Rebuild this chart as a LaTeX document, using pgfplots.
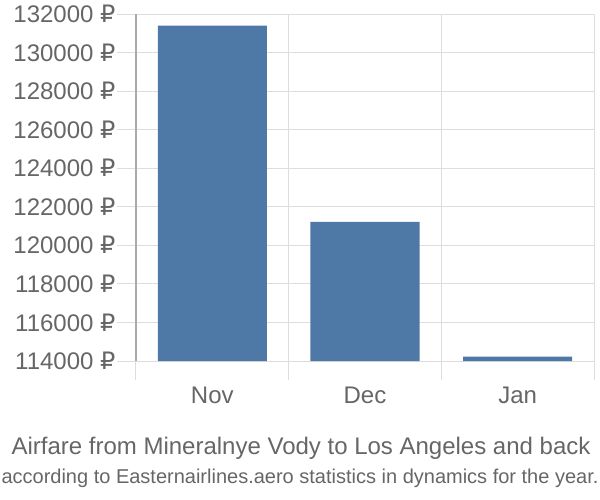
\documentclass[border=0pt]{standalone}
\usepackage{pgfplots}
\pgfplotsset{compat=1.18}
\usepackage{fontspec}
\setmainfont{Liberation Sans}
\newfontfamily\rub{DejaVu Sans}
\newcommand{\R}{{\rub ₽}}
\definecolor{barblue}{RGB}{78,121,167}
\definecolor{txt}{RGB}{102,102,102}
\definecolor{gridc}{RGB}{221,221,221}
\definecolor{axc}{RGB}{170,170,170}
\begin{document}
\begin{tikzpicture}[x=1pt,y=1pt]
\path[use as bounding box] (0,0) rectangle (600,-500);
\begin{axis}[
  at={(136pt,-361pt)}, anchor=south west,
  scale only axis, width=458pt, height=347pt,
  xmin=0, xmax=3, ymin=114000, ymax=132000,
  scaled y ticks=false,
  axis x line*=bottom, axis y line*=left,
  x axis line style={draw=gridc, line width=1pt, -},
  y axis line style={draw=axc, line width=1.5pt, -},
  xtick={0,1,2,3}, xticklabels={},
  extra x ticks={0.5,1.5,2.5},
  extra x tick labels={Nov,Dec,Jan},
  extra x tick style={major tick length=0pt, grid=none,
     xticklabel style={yshift=-22pt, font=\fontsize{24}{28}\selectfont}},
  ytick={114000,116000,...,132000},
  yticklabels={114000 \R,116000 \R,118000 \R,120000 \R,122000 \R,124000 \R,126000 \R,128000 \R,130000 \R,132000 \R},
  tick align=outside, major tick length=19pt,
  tick style={draw=gridc, line width=1pt},
  xmajorgrids, ymajorgrids,
  grid style={draw=gridc, line width=1pt},
  ticklabel style={font=\fontsize{24}{28}\selectfont, text=txt},
  yticklabel style={xshift=2pt},
  ybar, bar width=0.714, bar shift=0pt,
]
\addplot[fill=barblue, draw=none] coordinates {(0.5,131400) (1.5,121220) (2.5,114230)};
\end{axis}
\node[text=txt, font=\fontsize{24}{28}\selectfont, anchor=base] at (301,-454) {Airfare from Mineralnye Vody to Los Angeles and back};
\node[text=txt, font=\fontsize{20}{24}\selectfont, anchor=base] at (300,-483.5) {according to Easternairlines.aero statistics in dynamics for the year.};
\end{tikzpicture}
\end{document}
